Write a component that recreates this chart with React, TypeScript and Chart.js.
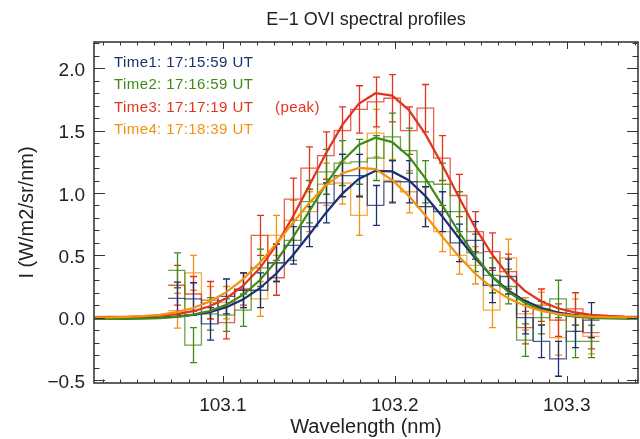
import React, { useEffect, useRef } from 'react';
import { Chart, registerables } from 'chart.js';

Chart.register(...registerables);

// ---------- data ----------
const wavelengths = [
  103.0730, 103.0827, 103.0923, 103.1020, 103.1116, 103.1213, 103.1309, 103.1406,
  103.1502, 103.1599, 103.1695, 103.1792, 103.1888, 103.1985, 103.2081, 103.2178,
  103.2274, 103.2371, 103.2467, 103.2564, 103.2660, 103.2757, 103.2853, 103.2950,
  103.3046, 103.3143,
];

const time1Values = [0.155, 0.15, -0.05, 0.17, 0.22, 0.22, 0.44, 0.58, 0.73, 0.92, 1.14, 1.14, 0.90, 1.09, 1.09, 0.89, 0.85, 0.60, 0.62, 0.26, 0.33, 0.00, -0.19, -0.33, -0.11, -0.02];
const time2Values = [0.38, -0.22, 0.03, 0.02, 0.06, 0.40, 0.44, 0.62, 0.93, 1.17, 1.24, 1.25, 1.28, 1.45, 1.34, 1.09, 1.07, 0.85, 0.52, 0.34, 0.25, -0.18, 0.00, 0.15, -0.19, -0.19];
const time3Values = [0.26, 0.19, 0.14, -0.04, 0.23, 0.66, 0.32, 0.95, 1.20, 1.30, 1.50, 1.67, 1.73, 1.76, 1.50, 1.68, 1.28, 0.98, 0.69, 0.53, 0.37, -0.08, 0.10, -0.02, 0.07, -0.12];
const time4Values = [0.056, 0.36, 0.12, 0.12, 0.22, 0.15, 0.66, 0.78, 0.85, 1.07, 1.08, 0.82, 1.48, 1.10, 1.01, 0.89, 0.69, 0.50, 0.42, 0.06, 0.48, 0.03, 0.075, -0.16, 0.02, -0.15];

const time1Errors = [0.13, 0.13, 0.13, 0.14, 0.14, 0.14, 0.15, 0.15, 0.16, 0.16, 0.17, 0.17, 0.16, 0.17, 0.17, 0.16, 0.16, 0.15, 0.15, 0.14, 0.14, 0.13, 0.13, 0.14, 0.13, 0.14];
const time2Errors = [0.14, 0.14, 0.13, 0.13, 0.13, 0.15, 0.15, 0.16, 0.17, 0.18, 0.18, 0.18, 0.18, 0.19, 0.18, 0.17, 0.17, 0.16, 0.15, 0.14, 0.14, 0.13, 0.13, 0.15, 0.13, 0.13];
const time3Errors = [0.16, 0.14, 0.15, 0.13, 0.13, 0.16, 0.14, 0.17, 0.17, 0.19, 0.19, 0.19, 0.20, 0.19, 0.19, 0.19, 0.18, 0.17, 0.16, 0.15, 0.14, 0.13, 0.13, 0.13, 0.13, 0.13];
const time4Errors = [0.14, 0.14, 0.13, 0.13, 0.14, 0.14, 0.16, 0.16, 0.16, 0.17, 0.17, 0.16, 0.19, 0.17, 0.17, 0.16, 0.16, 0.15, 0.15, 0.14, 0.15, 0.13, 0.13, 0.14, 0.13, 0.14];

const fitWavelengths = [
  103.0248, 103.0344, 103.0441, 103.0537, 103.0634,
  103.0730, 103.0827, 103.0923, 103.1020, 103.1116, 103.1213, 103.1309, 103.1406,
  103.1502, 103.1599, 103.1695, 103.1792, 103.1888, 103.1985, 103.2081, 103.2178,
  103.2274, 103.2371, 103.2467, 103.2564, 103.2660, 103.2757, 103.2853, 103.2950,
  103.3046, 103.3143,
  103.3239, 103.3336, 103.3432,
];

const time1Fit = [-0.005, -0.005, -0.004, -0.002, 0.001, 0.008, 0.022, 0.045, 0.084, 0.145, 0.234, 0.352, 0.499, 0.665, 0.840, 0.995, 1.115, 1.178, 1.173, 1.102, 0.976, 0.816, 0.643, 0.478, 0.333, 0.219, 0.135, 0.078, 0.041, 0.020, 0.007, 0.001, -0.003, -0.004];
const time2Fit = [-0.010, -0.010, -0.009, -0.007, -0.003, 0.006, 0.024, 0.053, 0.104, 0.182, 0.298, 0.451, 0.641, 0.853, 1.069, 1.256, 1.388, 1.443, 1.408, 1.295, 1.117, 0.907, 0.691, 0.495, 0.331, 0.207, 0.120, 0.063, 0.029, 0.009, -0.001, -0.006, -0.008, -0.009];
const time3Fit = [0.005, 0.006, 0.007, 0.010, 0.016, 0.028, 0.052, 0.091, 0.156, 0.254, 0.394, 0.578, 0.807, 1.059, 1.317, 1.546, 1.717, 1.800, 1.781, 1.667, 1.472, 1.231, 0.971, 0.724, 0.511, 0.341, 0.215, 0.130, 0.075, 0.042, 0.023, 0.014, 0.009, 0.007];
const time4Fit = [0.001, 0.003, 0.006, 0.012, 0.023, 0.044, 0.078, 0.130, 0.205, 0.307, 0.439, 0.591, 0.758, 0.920, 1.061, 1.159, 1.201, 1.192, 1.104, 0.977, 0.820, 0.654, 0.494, 0.354, 0.241, 0.155, 0.095, 0.055, 0.031, 0.016, 0.008, 0.004, 0.002, 0.001];

const seriesLabels = ['Time1: 17:15:59 UT', 'Time2: 17:16:59 UT', 'Time3: 17:17:19 UT', 'Time4: 17:18:39 UT'];
const seriesNotes = ['', '', '(peak)', ''];
const seriesColors = ['#1c2f72', '#3f8a16', '#e2331d', '#f2920e'];

const titleText = 'E\u22121 OVI spectral profiles';
const xTitle = 'Wavelength (nm)';
const yTitle = 'I (W/m2/sr/nm)';

const xTickValues = [103.1, 103.2, 103.3];
const xTickLabels = ['103.1', '103.2', '103.3'];
const yTickValues = [-0.5, 0, 0.5, 1.0, 1.5, 2.0];
const yTickLabels = ['\u22120.5', '0.0', '0.5', '1.0', '1.5', '2.0'];

const X_MIN = 103.025;
const X_MAX = 103.3415;
const Y_MIN = -0.524;
const Y_MAX = 2.211;

const FONT = "'Liberation Sans', Arial, Helvetica, sans-serif";
const TEXT_COLOR = '#222222';

const allValues = [time1Values, time2Values, time3Values, time4Values];
const allErrors = [time1Errors, time2Errors, time3Errors, time4Errors];
const allFits = [time1Fit, time2Fit, time3Fit, time4Fit];

// ---------- helpers ----------
function withAlpha(hex: string, a: number) {
  const r = parseInt(hex.slice(1, 3), 16);
  const g = parseInt(hex.slice(3, 5), 16);
  const b = parseInt(hex.slice(5, 7), 16);
  return `rgba(${r},${g},${b},${a})`;
}

function histPoints(vals: number[]) {
  const n = wavelengths.length;
  const half = (wavelengths[1] - wavelengths[0]) / 2;
  return [
    { x: wavelengths[0] - half, y: vals[0] },
    ...wavelengths.map((w, i) => ({ x: w, y: vals[i] })),
    { x: wavelengths[n - 1] + half, y: vals[n - 1] },
  ];
}

// ---------- plugins ----------
const errorBarPlugin = {
  id: 'errorBars',
  afterDatasetDraw(chart: any, args: any) {
    const ds = chart.data.datasets[args.index];
    if (ds._series === undefined || !ds._hist) return;
    const s = ds._series;
    const { ctx, chartArea: a, scales } = chart;
    const xs = scales.x, ys = scales.y;
    const vals = allValues[s], errs = allErrors[s];
    ctx.save();
    ctx.beginPath();
    ctx.rect(a.left, a.top, a.right - a.left, a.bottom - a.top);
    ctx.clip();
    ctx.strokeStyle = seriesColors[s];
    ctx.lineWidth = 1.3;
    ctx.beginPath();
    wavelengths.forEach((w, i) => {
      const px = Math.round(xs.getPixelForValue(w)) + 0.5;
      const top = ys.getPixelForValue(vals[i] + errs[i]);
      const bot = ys.getPixelForValue(vals[i] - errs[i]);
      ctx.moveTo(px, top); ctx.lineTo(px, bot);
      ctx.moveTo(px - 3.5, top); ctx.lineTo(px + 3.5, top);
      ctx.moveTo(px - 3.5, bot); ctx.lineTo(px + 3.5, bot);
    });
    ctx.stroke();
    ctx.restore();
  },
};

const framePlugin = {
  id: 'idlFrame',
  afterDraw(chart: any) {
    const { ctx, chartArea: a, scales } = chart;
    const xs = scales.x, ys = scales.y;
    ctx.save();
    ctx.strokeStyle = '#333333';
    ctx.lineWidth = 1;
    ctx.beginPath();
    for (let k = Math.ceil(X_MIN * 100); k <= Math.floor(X_MAX * 100); k++) {
      const px = Math.round(xs.getPixelForValue(k / 100)) + 0.5;
      const len = k % 10 === 0 ? 7 : 3.5;
      ctx.moveTo(px, a.bottom); ctx.lineTo(px, a.bottom - len);
      ctx.moveTo(px, a.top); ctx.lineTo(px, a.top + len);
    }
    for (let k = Math.ceil(Y_MIN * 10); k <= Math.floor(Y_MAX * 10); k++) {
      const py = Math.round(ys.getPixelForValue(k / 10)) + 0.5;
      const len = Math.abs(k % 5) === 0 ? 11 : 5.5;
      ctx.moveTo(a.left, py); ctx.lineTo(a.left + len, py);
      ctx.moveTo(a.right, py); ctx.lineTo(a.right - len, py);
    }
    ctx.stroke();
    ctx.lineWidth = 1.6;
    ctx.strokeStyle = '#3a3a3a';
    ctx.strokeRect(a.left, a.top, a.right - a.left, a.bottom - a.top);

    // title
    ctx.fillStyle = TEXT_COLOR;
    ctx.font = `18px ${FONT}`;
    ctx.textAlign = 'center';
    ctx.textBaseline = 'alphabetic';
    ctx.fillText(titleText, (a.left + a.right) / 2, 25);

    // legend (text only, coloured)
    ctx.font = `15px ${FONT}`;
    ctx.textAlign = 'left';
    try { (ctx as any).letterSpacing = '0.4px'; } catch (e) { /* ignore */ }
    const baselines = [66.5, 89, 111.5, 134];
    seriesLabels.forEach((lab, i) => {
      ctx.fillStyle = seriesColors[i];
      ctx.fillText(lab, 114, baselines[i]);
      if (seriesNotes[i]) ctx.fillText(seriesNotes[i], 275, baselines[i]);
    });
    ctx.restore();
  },
};

// ---------- component ----------
export default function App() {
  const ref = useRef<HTMLCanvasElement>(null);

  useEffect(() => {
    document.body.style.margin = '0';
    const datasets: any[] = [];
    allValues.forEach((vals, s) => {
      datasets.push({
        type: 'line',
        label: seriesLabels[s] + ' data',
        data: histPoints(vals),
        borderColor: withAlpha(seriesColors[s], 0.78),
        borderWidth: 1.3,
        stepped: 'middle',
        pointRadius: 0,
        fill: false,
        order: 2,
        _series: s,
        _hist: true,
      });
    });
    allFits.forEach((fit, s) => {
      datasets.push({
        type: 'line',
        label: seriesLabels[s] + ' fit',
        data: fitWavelengths.map((w, i) => ({ x: w, y: fit[i] })),
        borderColor: seriesColors[s],
        borderWidth: 2.2,
        tension: 0,
        pointRadius: 0,
        fill: false,
        order: 1 - s * 0.1,
        _series: s,
        _hist: false,
      });
    });

    const chart = new Chart(ref.current as HTMLCanvasElement, {
      type: 'line',
      data: { datasets },
      plugins: [errorBarPlugin, framePlugin],
      options: {
        responsive: false,
        maintainAspectRatio: false,
        animation: false,
        events: [],
        layout: { padding: { left: 0, right: 2, top: 42, bottom: 0 } },
        plugins: {
          legend: { display: false },
          tooltip: { enabled: false },
          title: { display: false },
        },
        scales: {
          x: {
            type: 'linear',
            min: X_MIN,
            max: X_MAX,
            grid: { display: false, drawTicks: false },
            border: { display: false },
            afterFit: (s: any) => { s.height = 56; },
            afterBuildTicks: (s: any) => { s.ticks = xTickValues.map((v) => ({ value: v })); },
            ticks: {
              font: { family: FONT, size: 19 },
              color: TEXT_COLOR,
              padding: 11,
              maxRotation: 0,
              autoSkip: false,
              callback: (_v: any, i: number) => xTickLabels[i],
            },
            title: {
              display: true,
              text: xTitle,
              color: TEXT_COLOR,
              font: { family: FONT, size: 20, lineHeight: 1 },
              padding: { top: 0, bottom: 2 },
            },
          },
          y: {
            type: 'linear',
            min: Y_MIN,
            max: Y_MAX,
            grid: { display: false, drawTicks: false },
            border: { display: false },
            afterFit: (s: any) => { s.width = 94; },
            afterBuildTicks: (s: any) => { s.ticks = yTickValues.map((v) => ({ value: v })); },
            ticks: {
              font: { family: FONT, size: 19 },
              color: TEXT_COLOR,
              padding: 9,
              labelOffset: 2.5,
              autoSkip: false,
              callback: (_v: any, i: number) => yTickLabels[i],
            },
            title: {
              display: true,
              text: yTitle,
              color: TEXT_COLOR,
              font: { family: FONT, size: 20, lineHeight: 1 },
              padding: { top: 17, bottom: 0 },
            },
          },
        },
      } as any,
    });
    return () => chart.destroy();
  }, []);

  return (
    <div style={{ width: 640, height: 439 }}>
      <canvas ref={ref} width={640} height={439} style={{ display: 'block', width: 640, height: 439 }} />
    </div>
  );
}
